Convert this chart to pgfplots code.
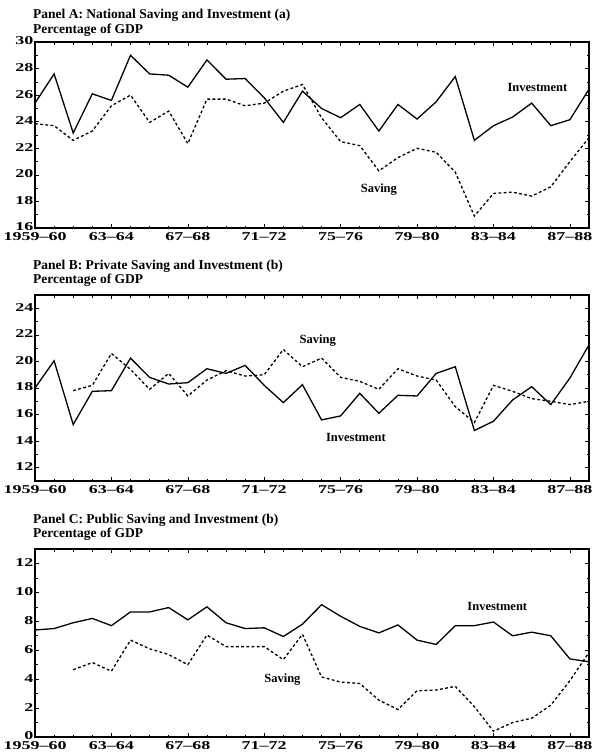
\documentclass[border=0pt]{standalone}
\usepackage{fontspec}
\setmainfont{Liberation Serif}
\newfontfamily\tickfont[FakeStretch=1.5]{Liberation Serif}
\usepackage{pgfplots}
\usepackage{pgfplotstable}
\pgfplotsset{compat=1.18}

\pgfplotstableread{
x inv sav
0 25.4 23.85
1 27.6 23.7
2 23.15 22.6
3 26.1 23.3
4 25.6 25.2
5 29.0 26.0
6 27.6 23.95
7 27.5 24.8
8 26.6 22.35
9 28.65 25.7
10 27.2 25.7
11 27.25 25.2
12 25.8 25.4
13 23.95 26.3
14 26.3 26.8
15 25.0 24.3
16 24.3 22.5
17 25.3 22.2
18 23.3 20.3
19 25.3 21.3
20 24.2 22.0
21 25.5 21.7
22 27.4 20.2
23 22.6 16.9
24 23.7 18.6
25 24.35 18.7
26 25.4 18.4
27 23.7 19.1
28 24.15 21.0
29 26.45 22.8
}\panelA

\pgfplotstableread{
x inv sav
0 18.0 nan
1 20.05 nan
2 15.25 17.8
3 17.75 18.2
4 17.8 20.6
5 20.25 19.4
6 18.8 17.9
7 18.3 19.1
8 18.4 17.4
9 19.45 18.6
10 19.1 19.3
11 19.7 18.9
12 18.2 19.0
13 16.9 20.9
14 18.25 19.6
15 15.6 20.25
16 15.9 18.8
17 17.6 18.5
18 16.1 17.9
19 17.45 19.45
20 17.4 18.9
21 19.1 18.6
22 19.6 16.6
23 14.8 15.4
24 15.5 18.2
25 17.1 17.75
26 18.1 17.2
27 16.75 17.0
28 18.75 16.75
29 21.25 17.0
}\panelB

\pgfplotstableread{
x inv sav
0 7.4 nan
1 7.5 nan
2 7.9 4.65
3 8.2 5.15
4 7.7 4.55
5 8.65 6.7
6 8.65 6.1
7 8.95 5.7
8 8.1 5.0
9 9.0 7.05
10 7.9 6.25
11 7.5 6.25
12 7.55 6.25
13 6.95 5.35
14 7.8 7.1
15 9.15 4.15
16 8.35 3.8
17 7.65 3.7
18 7.2 2.55
19 7.75 1.9
20 6.7 3.2
21 6.4 3.25
22 7.7 3.5
23 7.7 2.1
24 7.95 0.4
25 7.0 1.0
26 7.25 1.3
27 7.0 2.2
28 5.4 3.9
29 5.2 5.85
}\panelC

\pgfplotsset{
  panel/.style={
    scale only axis, width=554pt, height=186pt,
    xmin=0, xmax=29,
    xtick={0,4,...,28},
    xticklabels={1959–60,63–64,67–68,71–72,75–76,79–80,83–84,87–88},
    minor x tick num=3,
    minor y tick num=1,
    tick align=inside,
    major tick length=4pt, minor tick length=2.5pt,
    every tick/.style={black, line width=0.6pt},
    axis line style={line width=1.1pt},
    /pgf/number format/assume math mode=true,
    tick label style={font=\tickfont\bfseries\fontsize{12}{12}\selectfont},
    yticklabel style={inner sep=1.5pt, yshift=1pt},
    xticklabel style={inner sep=4.5pt},
    clip=false,
  },
}
\tikzset{
  inv/.style={black, line width=1.3pt},
  sav/.style={black, line width=1.3pt, dash pattern=on 2.8pt off 2.4pt},
  lbl/.style={font=\bfseries\fontsize{12.5}{12.5}\selectfont},
}
\newcommand\ttl{\bfseries\fontsize{13.5}{15}\selectfont}

\begin{document}
\begin{tikzpicture}
\useasboundingbox (0,0) rectangle (594pt,-755pt);

\node[anchor=base west, inner sep=0pt] at (33pt,-18pt) {\ttl Panel A: National Saving and Investment (a)};
\node[anchor=base west, inner sep=0pt] at (33pt,-33pt) {\ttl Percentage of GDP};
\begin{axis}[panel, at={(35pt,-42pt)}, anchor=north west,
  ymin=16, ymax=30, ytick={16,18,...,30}]
\addplot[inv] table[x=x, y=inv] {\panelA};
\addplot[sav] table[x=x, y=sav] {\panelA};
\node[lbl] at (axis cs:26.3,26.6) {Investment};
\node[lbl] at (axis cs:18.0,18.86) {Saving};
\end{axis}

\node[anchor=base west, inner sep=0pt] at (33pt,-269pt) {\ttl Panel B: Private Saving and Investment (b)};
\node[anchor=base west, inner sep=0pt] at (33pt,-283pt) {\ttl Percentage of GDP};
\begin{axis}[panel, at={(35pt,-295pt)}, anchor=north west,
  ymin=11, ymax=25, ytick={12,14,...,24}]
\addplot[inv] table[x=x, y=inv] {\panelB};
\addplot[sav, unbounded coords=discard] table[x=x, y=sav] {\panelB};
\node[lbl] at (axis cs:14.8,21.6) {Saving};
\node[lbl] at (axis cs:16.8,14.3) {Investment};
\end{axis}

\node[anchor=base west, inner sep=0pt] at (33pt,-523pt) {\ttl Panel C: Public Saving and Investment (b)};
\node[anchor=base west, inner sep=0pt] at (33pt,-537pt) {\ttl Percentage of GDP};
\begin{axis}[panel, at={(35pt,-549pt)}, anchor=north west, height=188pt,
  ymin=0, ymax=13, ytick={0,2,...,12}]
\addplot[inv] table[x=x, y=inv] {\panelC};
\addplot[sav, unbounded coords=discard] table[x=x, y=sav] {\panelC};
\node[lbl] at (axis cs:24.2,9.06) {Investment};
\node[lbl] at (axis cs:12.95,4.0) {Saving};
\end{axis}
\end{tikzpicture}
\end{document}
